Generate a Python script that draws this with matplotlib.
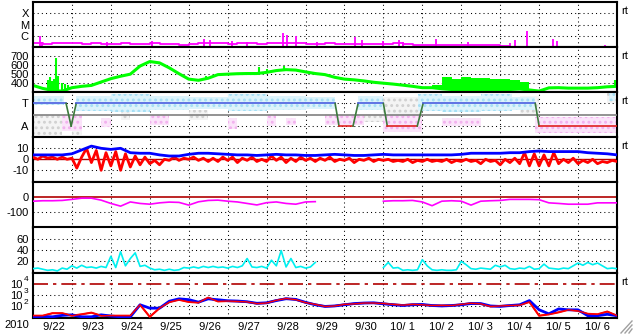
import matplotlib
matplotlib.use('Agg')
import matplotlib.pyplot as plt
from matplotlib.lines import Line2D
from matplotlib.ticker import NullLocator
from matplotlib.transforms import offset_copy
import numpy as np

plt.rcParams['font.family'] = ['Liberation Sans Narrow', 'Liberation Sans', 'DejaVu Sans']
plt.rcParams['hatch.linewidth'] = 1.3

# -----------------------------
# --- data (days since 9/22 00:00 UT) ---
# -----------------------------
days6 = np.arange(61) * 0.25      # 6-hourly
days3 = np.arange(121) * 0.125    # 3-hourly

day_labels = [' 9/22', ' 9/23', ' 9/24', ' 9/25', ' 9/26', ' 9/27', ' 9/28', ' 9/29',
              ' 9/30', '10/ 1', '10/ 2', '10/ 3', '10/ 4', '10/ 5', '10/ 6']

# X-ray flux background (x1e-7 W/m2) and flares
xray_base = [2.2, 2.0, 2.3, 2.1, 2.2,
             2.0, 2.1, 1.9, 2.0, 2.1, 1.9, 2.0, 2.2,
             2.0, 1.8, 1.7, 1.8, 2.1, 2.3, 2.2, 2.0,
             2.1, 2.3, 2.0, 2.2, 2.1, 2.4, 2.2, 2.0,
             2.0, 2.1, 1.9, 2.0, 1.8, 1.9, 1.8, 1.9,
             2.1, 1.9, 1.7, 1.6, 1.6, 1.7, 1.6, 1.6,
             1.6, 1.5, 1.5, 1.2, 1.0, 1.0, 1.0, 1.0,
             1.0, 1.0, 1.0, 1.0, 1.0, 1.0, 1.0, 1.0]
flare_t = [0.18, 0.22, 1.90, 3.06, 4.40, 4.55, 5.10, 5.50, 6.43, 6.53, 6.76, 7.30, 8.28,
           8.45, 9.00, 9.40, 9.50, 10.36, 11.18, 12.26, 12.38, 12.69, 13.36, 13.46, 14.70]
flare_v = [10, 3, 3, 3.8, 5, 4, 3.5, 3, 18, 12, 10, 3, 8,
           4, 3.5, 4.4, 3, 5.4, 3, 2.4, 4.5, 28, 5.4, 3.6, 1.6]

# solar wind speed (km/s)
speed = [375, 342, 320, 312, 350, 365, 375, 413, 450, 477,
         500, 590, 640, 625, 570, 505, 445, 432, 455, 495,
         500, 505, 507, 507, 520, 540, 550, 545, 525, 507,
         495, 465, 445, 437, 425, 410, 400, 390, 378, 365,
         350, 350, 338, 330, 328, 328, 327, 327, 328, 330,
         335, 325, 312, 348, 350, 345, 345, 345, 350, 360, 365]
speed_band_t = [10.25, 10.5, 10.75, 11.0, 11.25, 11.5, 11.75, 12.0, 12.25, 12.5, 12.75]
speed_band_hi = [380, 465, 450, 470, 455, 460, 445, 450, 440, 415, 415]
speed_spike_t = [0.39, 0.44, 0.49, 0.55, 0.60, 0.65, 0.75, 0.83, 0.90, 4.45, 4.60, 5.80, 6.00, 6.45, 14.95]
speed_spike_v = [440, 465, 420, 450, 680, 480, 400, 390, 380, 480, 470, 575, 560, 590, 432]

# IMF sector (T = toward, A = away)
sector_t = [0.0, 0.85, 0.98, 1.11, 7.76, 7.86, 8.22, 8.35, 9.0, 9.1, 9.87, 10.02, 12.9, 13.0, 15.0]
sector_lv = [3, 3, 1, 3, 3, 1, 1, 3, 3, 1, 1, 3, 3, 1, 1]
toward_start = [0.0, 1.1, 2.0, 3.0, 4.0, 5.0, 6.0, 7.0, 8.35, 9.9, 10.5, 11.5, 12.3, 14.8]
toward_end = [0.8, 2.0, 3.0, 4.0, 5.0, 6.0, 7.0, 7.75, 9.0, 10.5, 11.5, 12.3, 12.9, 14.95]
toward_lo = [2.9, 2.3, 2.2, 2.4, 2.5, 2.3, 2.4, 2.5, 2.4, 2.3, 2.2, 2.3, 2.4, 3.2]
toward_hi = [3.7, 3.7, 3.8, 3.7, 3.6, 3.8, 3.7, 3.6, 3.7, 3.8, 3.7, 3.8, 3.6, 3.9]
away_start = [0.75, 1.75, 3.0, 5.0, 6.0, 6.5, 7.5, 9.0, 10.5, 12.9]
away_end = [1.25, 2.0, 3.5, 5.25, 6.25, 6.75, 8.5, 10.0, 11.5, 15.0]
away_lo = [0.6, 0.9, 1.1, 0.7, 1.0, 1.1, 1.1, 0.5, 1.0, 0.4]
away_hi = [2.0, 1.7, 2.0, 1.7, 2.0, 1.7, 2.0, 2.0, 1.7, 1.8]
other_start = [0.0, 1.0, 2.25, 4.0, 7.5, 9.0, 12.5, 14.75]
other_end = [0.75, 1.25, 2.5, 4.5, 9.0, 10.0, 13.0, 15.0]
other_lo = [0.2, 0.2, 1.5, 1.5, 1.4, 1.6, 2.0, 3.0]
other_hi = [2.0, 0.6, 2.2, 2.4, 2.1, 3.6, 3.7, 3.9]

# IMF Bt and Bz (nT)
bt = [4, 4, 4, 4, 5, 8.5, 12, 10, 9, 10,
      6, 5.5, 5.5, 4, 3, 3, 4.5, 5.5, 5.5, 5,
      4.5, 4, 4, 3.5, 4, 4.5, 4, 4, 3.5, 3.5,
      4, 4.5, 4, 3.5, 3.5, 4, 4.5, 4, 4, 4,
      4, 4, 4, 4, 4.5, 5.5, 5.5, 5.5, 5.5, 6,
      6, 7, 7.5, 7, 7, 7, 7, 6, 5.5, 5, 4]
bz = [2, 0, 3, 1, 2, 0, 2, 0,
      1, -8, 2, 10, -3, 8, -10, 6,
      -6, 7, -10, 5, -7, 3, -5, 2,
      -4, -1, -5, 0, -1, 2, -1, 1,
      0, 2, -1, 1, -2, 1, -2, 2,
      -1, 2, -3, 1, -1, 2, -2, 0,
      -2, 3, -1, 2, -3, 1, -2, 2,
      -1, 1, -2, 1, -1, 2, -2, 0,
      -1, 1, -3, 0, -1, 1, -2, 0,
      -1, 0, -2, -1, -2, 0, -3, -1,
      -2, 0, -2, -1, -2, 0, -3, -1,
      -2, 0, -2, -1, -4, 0, -2, -1,
      -5, 0, -3, 1, -4, 6, -6, 5,
      -6, 4, -6, 6, -4, 0, -3, 1,
      -4, -1, -3, 0, -4, -2, -3, -1,
      -2]

# Dst (nT)
dst = [-25, -22, -22, -20, -13, -5, -5, -18, -40, -58,
       -30, -40, -45, -36, -31, -33, -51, -29, -20, -18,
       -25, -30, -40, -50, -35, -30, -40, -45, -30, -28,
       None, None, None, None, None, None, -25, -22, -22, -20,
       -30, -55, -25, -22, -25, -51, -25, -22, -20, -13,
       -13, -13, -15, -36, -40, -45, -45, -45, -36, -36, -36]

# AE-like index (cyan)
cyan = [7, 8, 6, 4, 5, 3, 8, 6,
        12, 8, 13, 9, 10, 8, 11, 9,
        29, 9, 37, 12, 25, 35, 11, 13,
        8, 5, 6, 4, 6, 4, 5, 9,
        8, 10, 8, 11, 9, 11, 9, 10,
        8, 11, 9, 12, 25, 10, 9, 11,
        8, 22, 12, 39, 10, 25, 9, 11,
        8, 10, 18, None, None, None, None, None,
        None, None, None, None, None, None, None, None,
        9, 18, 8, 9, 4, 5, 4, 5,
        23, 12, 5, 4, 5, 4, 4, 5,
        20, 14, 7, 6, 8, 7, 6, 13,
        10, 13, 7, 6, 8, 7, 11, 6,
        7, 15, 8, 7, 6, 8, 7, 12,
        17, 13, 18, 14, 17, 12, 7, 8,
        7]

# electron flux (two satellites)
elec_red = [15, 15, 25, 25, 15, 20, 28, 15, 15, 15,
            15, 140, 12, 70, 240, 390, 250, 220, 600, 280,
            300, 280, 250, 180, 200, 350, 500, 400, 220, 150,
            100, 110, 150, 170, 200, 200, 180, 150, 130, 150,
            140, 120, 120, 120, 150, 190, 170, 100, 110, 120,
            130, 250, 15, 20, 30, 50, 40, 22, 20, 35, 15]
elec_blue = [12, 13, 12, 16, 18, 12, 12, 18, 14, 12,
             12, 140, 70, 70, 290, 470, 400, 240, 470, 390,
             320, 300, 260, 190, 210, 330, 480, 420, 230, 140,
             100, 110, 140, 180, 200, 210, 170, 140, 120, 140,
             150, 120, 110, 120, 140, 180, 180, 110, 100, 120,
             140, 330, 50, 22, 60, 50, 50, 15, 15, 20, 15]
elec_exp = [2, 3, 4]

# -----------------------------
# --- figure ---
# -----------------------------
DOT = dict(color='k', lw=0.75, ls=(0, (1, 3)), zorder=1)
FS = 8

fig = plt.figure(figsize=(6.33, 3.34), dpi=100)
gs = fig.add_gridspec(7, 1, left=33 / 633, right=617 / 633,
                      top=1 - 2 / 334, bottom=1 - 317.7 / 334, hspace=0)
axes = []
for i in range(7):
    ax = fig.add_subplot(gs[i], sharex=axes[0] if axes else None)
    ax.set_xlim(0, 15)
    ax.tick_params(length=0, labelsize=FS, pad=3)
    for s in ax.spines.values():
        s.set_linewidth(1.5)
    for d in range(1, 15):
        ax.axvline(d, **DOT)
    axes.append(ax)


def yaxis(ax, ticks, labels, dotted=None):
    ax.yaxis.set_minor_locator(NullLocator())
    ax.set_yticks(ticks)
    ax.set_yticklabels(labels)
    for v in (ticks if dotted is None else dotted):
        ax.axhline(v, **DOT)


# X-ray
ax = axes[0]
ax.set_yscale('log')
ax.set_ylim(1e-7, 1e-3)
yaxis(ax, [1e-6, 1e-5, 1e-4], ['C', 'M', 'X'])
ax.plot(days6, np.array(xray_base) * 1e-7, drawstyle='steps-post', color='#ff00ff', lw=1.3)
ax.vlines(flare_t, 1e-7, np.array(flare_v) * 1e-7, color='#ff00ff', lw=1.3)

# speed
ax = axes[1]
ax.set_ylim(300, 800)
yaxis(ax, [400, 500, 600, 700], ['400', '500', '600', '700'])
ax.fill_between(speed_band_t, np.interp(speed_band_t, days6, speed), speed_band_hi,
                step='post', color='#00ff00', lw=0)
ax.vlines(speed_spike_t, np.interp(speed_spike_t, days6, speed), speed_spike_v,
          color='#00ff00', lw=1.5)
ax.plot(days6, speed, color='#00ff00', lw=2.2)

# sector
ax = axes[2]
ax.set_ylim(0, 4)
yaxis(ax, [1, 3], ['A', 'T'])
bands = ([(a, b, c, d, '#d0d0d0', '#f4f4f4') for a, b, c, d in zip(other_start, other_end, other_lo, other_hi)] +
         [(a, b, c, d, '#a4def4', '#dcf3fb') for a, b, c, d in zip(toward_start, toward_end, toward_lo, toward_hi)] +
         [(a, b, c, d, '#f2b0ee', '#fbe4fa') for a, b, c, d in zip(away_start, away_end, away_lo, away_hi)])
for st, en, lo, hi, col, light in bands:
    ax.fill_between([st, en], [lo, lo], [hi, hi], facecolor=light, edgecolor=col,
                    hatch='...', lw=0, zorder=2)
ax.axhline(2, color='#808080', lw=1.2, zorder=3)
for i in range(len(sector_t) - 1):
    a, b = sector_lv[i], sector_lv[i + 1]
    col = '#4a5ee0' if a == b == 3 else ('#e02020' if a == b == 1 else '#3c7a3c')
    ax.plot(sector_t[i:i + 2], sector_lv[i:i + 2], color=col, lw=1.2, zorder=4)

# Bz / Bt
ax = axes[3]
ax.set_ylim(-21, 20)
yaxis(ax, [-10, 0, 10], ['-10', '0', '10'], dotted=[-10, 10])
ax.axhline(0, color='#b00000', lw=1.0, zorder=2)
ax.plot(days3, bz, color='#ff0000', lw=2, zorder=3)
ax.plot(days6, bt, color='#0000ff', lw=2, zorder=4)

# Dst
ax = axes[4]
ax.set_ylim(-200, 100)
yaxis(ax, [-100, 0], ['-100', '0'], dotted=[-100])
ax.axhline(0, color='#b00000', lw=1.2, zorder=2)
ax.plot(days6, np.array(dst, dtype=float), color='#ff00ff', lw=1.2, zorder=3)

# cyan index
ax = axes[5]
ax.set_ylim(0, 80)
yaxis(ax, [20, 40, 60], ['20', '40', '60'])
ax.plot(days3, np.array(cyan, dtype=float), color='#00f0f0', lw=1.2, zorder=3)

# electrons
ax = axes[6]
ax.set_yscale('log')
ax.set_ylim(10, 1e5)
yaxis(ax, [10.0 ** e for e in elec_exp], ['10'] * len(elec_exp), dotted=[1e2, 1e3])
ax.tick_params(axis='y', pad=7.5)
sup = offset_copy(ax.get_yaxis_transform(), fig=fig, x=0, y=4, units='dots')
for e in elec_exp:
    ax.text(-9.5 / 584, 10.0 ** e, str(e), transform=sup, fontsize=6,
            ha='left', va='center')
ax.axhline(1e4, color='#b00000', lw=1.2, ls=(0, (9, 3, 2, 3)), zorder=2)
ax.plot(days6, elec_red, color='#ff0000', lw=1.5, zorder=3)
ax.plot(days6, elec_blue, color='#0000ff', lw=2, zorder=4)
ax.plot(days6, elec_red, color='#ff0000', lw=1.0, zorder=5)

for ax in axes[:-1]:
    ax.tick_params(labelbottom=False)
axes[-1].set_xticks(np.arange(15) + 0.5)
axes[-1].set_xticklabels(day_labels)

for i in [0, 1, 2, 3, 6]:
    axes[i].text(1.008, 1 - 9 / 45, 'rt', transform=axes[i].transAxes, fontsize=FS,
                 ha='left', va='center')

fig.text(4 / 633, 1 - 325 / 334, '2010', fontsize=FS, ha='left', va='center')

# window resize grip
for k in (4, 8, 12):
    fig.add_artist(Line2D([(633 - k) / 633, 632 / 633], [1 / 334, (1 + k) / 334],
                          color='#a0a0a0', lw=1))

fig.savefig('out.png', dpi=100)
